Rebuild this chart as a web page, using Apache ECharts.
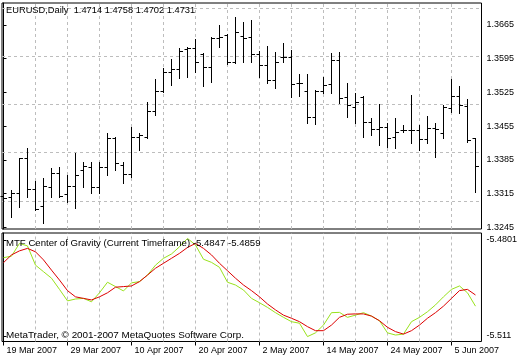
<!DOCTYPE html>
<html>
<head>
<meta charset="utf-8">
<style>
html,body{margin:0;padding:0;background:#fff;}
#c{width:520px;height:360px;}
</style>
<script src="https://cdn.jsdelivr.net/npm/echarts@6.0.0/dist/echarts.min.js"></script>
</head>
<body>
<div id="c"></div>
<script>
// ---- data (EURUSD daily, 19 Mar 2007 - 8 Jun 2007) ----
const openP = [1.3310,1.3308,1.3316,1.3389,1.3325,1.3289,1.3329,1.3358,1.3314,1.3331,
1.3364,1.3370,1.3329,1.3370,1.3430,1.3374,1.3356,1.3432,1.3432,1.3487,
1.3528,1.3567,1.3574,1.3615,1.3617,1.3605,1.3578,1.3638,1.3644,1.3588,
1.3642,1.3640,1.3605,1.3582,1.3551,1.3599,1.3599,1.3545,1.3528,1.3474,
1.3528,1.3543,1.3592,1.3516,1.3495,1.3516,1.3464,1.3449,1.3453,1.3432,
1.3447,1.3447,1.3447,1.3428,1.3451,1.3441,1.3493,1.3518,1.3497,1.3430];
const highP = [1.3327,1.3322,1.3389,1.3410,1.3341,1.3347,1.3368,1.3370,1.3354,1.3399,
1.3381,1.3381,1.3381,1.3441,1.3432,1.3381,1.3453,1.3441,1.3505,1.3553,
1.3576,1.3594,1.3617,1.3619,1.3636,1.3607,1.3640,1.3665,1.3646,1.3682,
1.3671,1.3675,1.3611,1.3621,1.3609,1.3628,1.3613,1.3563,1.3563,1.3530,
1.3557,1.3607,1.3609,1.3545,1.3524,1.3518,1.3472,1.3501,1.3462,1.3472,
1.3457,1.3520,1.3457,1.3476,1.3462,1.3499,1.3553,1.3538,1.3511,1.3430];
const lowP = [1.3279,1.3266,1.3287,1.3308,1.3281,1.3254,1.3308,1.3308,1.3298,1.3285,
1.3329,1.3316,1.3316,1.3354,1.3364,1.3337,1.3349,1.3406,1.3430,1.3478,
1.3526,1.3540,1.3555,1.3557,1.3567,1.3538,1.3547,1.3619,1.3584,1.3586,
1.3588,1.3588,1.3557,1.3545,1.3534,1.3588,1.3516,1.3518,1.3462,1.3460,
1.3524,1.3524,1.3503,1.3474,1.3462,1.3432,1.3437,1.3416,1.3412,1.3410,
1.3443,1.3420,1.3406,1.3420,1.3391,1.3430,1.3484,1.3482,1.3422,1.3318];
const closeP = [1.3306,1.3316,1.3389,1.3325,1.3283,1.3331,1.3358,1.3310,1.3331,1.3354,
1.3372,1.3329,1.3370,1.3430,1.3379,1.3356,1.3432,1.3437,1.3487,1.3528,
1.3567,1.3574,1.3611,1.3617,1.3588,1.3578,1.3638,1.3640,1.3588,1.3650,
1.3638,1.3605,1.3582,1.3551,1.3588,1.3599,1.3543,1.3545,1.3474,1.3528,
1.3540,1.3592,1.3513,1.3499,1.3505,1.3464,1.3449,1.3453,1.3430,1.3443,
1.3447,1.3447,1.3428,1.3451,1.3449,1.3495,1.3518,1.3499,1.3426,1.3372];
// Center of Gravity indicator (red) and signal (green)
const cogRed = [-5.4874,-5.4849,-5.4836,-5.4828,-5.4839,-5.4865,-5.4898,-5.4930,-5.4964,-5.4984,
-5.4989,-5.4994,-5.4984,-5.4971,-5.4953,-5.4951,-5.4949,-5.4935,-5.4914,-5.4892,
-5.4876,-5.4860,-5.4844,-5.4825,-5.4812,-5.4828,-5.4849,-5.4876,-5.4900,-5.4924,
-5.4946,-5.4964,-5.4984,-5.5007,-5.5026,-5.5043,-5.5053,-5.5064,-5.5080,-5.5093,
-5.5093,-5.5075,-5.5050,-5.5040,-5.5039,-5.5039,-5.5046,-5.5061,-5.5082,-5.5096,
-5.5104,-5.5093,-5.5075,-5.5053,-5.5035,-5.5014,-5.4989,-5.4964,-5.4960,-5.4978];
const cogGreen = [-5.4858,-5.4853,-5.4812,-5.4820,-5.4882,-5.4903,-5.4924,-5.4960,-5.4997,-5.4991,
-5.4989,-5.5000,-5.4971,-5.4937,-5.4951,-5.4965,-5.4939,-5.4935,-5.4914,-5.4882,
-5.4860,-5.4846,-5.4823,-5.4796,-5.4817,-5.4863,-5.4873,-5.4889,-5.4937,-5.4946,
-5.4962,-5.4989,-5.5003,-5.5018,-5.5035,-5.5050,-5.5064,-5.5069,-5.5112,-5.5100,
-5.5075,-5.5035,-5.5034,-5.5050,-5.5043,-5.5035,-5.5046,-5.5061,-5.5100,-5.5107,
-5.5104,-5.5064,-5.5050,-5.5032,-5.5010,-5.4984,-5.4960,-5.4949,-5.4971,-5.5014];
const priceTicks = [1.3245,1.3315,1.3385,1.3455,1.3525,1.3595,1.3665];
const cogTicks = [-5.511,-5.4801];
const cogTickText = ['-5.511','-5.4801'];
const dateLabelBars = [0,8,16,24,32,40,48,56];
const dateLabels = ['19 Mar 2007','29 Mar 2007','10 Apr 2007','20 Apr 2007','2 May 2007','14 May 2007','24 May 2007','5 Jun 2007'];
const gridBars = [4,8,12,16,20,24,28,32,36,40,44,48,52,56];
const titleMain = 'EURUSD,Daily  1.4714 1.4758 1.4702 1.4731';
const titleSub = 'MTF Center of Gravity (Current Timeframe) -5.4847 -5.4859';
const footer = 'MetaTrader, \u00a9 2001-2007 MetaQuotes Software Corp.';

// ---- chart ----
const FONT = 'Liberation Sans';
const ohlc = openP.map((o, i) => [i, o, highP[i], lowP[i], closeP[i]]);
const redData = cogRed.map((v, i) => [i, v]);
const greenData = cogGreen.map((v, i) => [i, v]);
const X_MIN = -0.1875, X_MAX = 59.75;
const gridLineStyle = {type: [3, 3], color: '#bdbdbd', width: 1};
const txt = size => ({fontSize: size, fontWeight: 'normal', color: '#000', fontFamily: FONT});

const chart = echarts.init(document.getElementById('c'), null, {renderer: 'canvas'});
chart.setOption({
  animation: false,
  backgroundColor: '#ffffff',
  textStyle: {fontFamily: FONT},
  title: [
    {text: titleMain, left: 6, top: 6, padding: 0, z: 20, textStyle: txt(9.3)},
    {text: titleSub, left: 6, top: 238, padding: 0, z: 20, textStyle: txt(9.6)},
    {text: footer, left: 6, top: 330, padding: 0, z: 20, textStyle: txt(9.9)}
  ],
  grid: [
    {left: 2, top: 3, width: 479.5, height: 226, show: true, borderColor: '#000', borderWidth: 1, backgroundColor: 'transparent'},
    {left: 2, top: 233, width: 479.5, height: 108.5, show: true, borderColor: '#000', borderWidth: 1, backgroundColor: 'transparent'}
  ],
  xAxis: [
    {type: 'value', gridIndex: 0, min: X_MIN, max: X_MAX, show: false, splitLine: {show: false}},
    {type: 'value', gridIndex: 1, min: X_MIN, max: X_MAX,
      axisLine: {show: false}, splitLine: {show: false},
      axisTick: {show: true, customValues: dateLabelBars, length: 4, lineStyle: {color: '#000'}},
      axisLabel: {customValues: dateLabelBars, formatter: v => dateLabels[dateLabelBars.indexOf(v)],
        align: 'left', padding: [0, 0, 0, 3], margin: 5, fontSize: 9, color: '#000', fontFamily: FONT}}
  ],
  yAxis: [
    {type: 'value', gridIndex: 0, position: 'right', min: 1.32415, max: 1.37107, scale: true,
      axisLine: {show: true, lineStyle: {color: '#000'}}, splitLine: {show: false},
      axisTick: {show: true, customValues: priceTicks, length: 3, lineStyle: {color: '#000'}},
      axisLabel: {customValues: priceTicks, formatter: v => v.toFixed(4), margin: 5, fontSize: 9, color: '#000', fontFamily: FONT}},
    {type: 'value', gridIndex: 1, position: 'right', min: -5.512783, max: -5.477846, scale: true,
      axisLine: {show: true, lineStyle: {color: '#000'}}, splitLine: {show: false},
      axisTick: {show: true, customValues: cogTicks, length: 3, lineStyle: {color: '#000'}},
      axisLabel: {customValues: cogTicks, formatter: v => cogTickText[cogTicks.indexOf(v)], margin: 5, fontSize: 9, color: '#000', fontFamily: FONT}}
  ],
  series: [
    {type: 'line', xAxisIndex: 0, yAxisIndex: 0, data: [], z: 1, silent: true,
      markLine: {silent: true, z: 1, symbol: ['none', 'none'], label: {show: false}, lineStyle: gridLineStyle, animation: false,
        data: gridBars.map(b => ({xAxis: b})).concat(priceTicks.map(p => ({yAxis: p})))}},
    {type: 'line', xAxisIndex: 1, yAxisIndex: 1, data: [], z: 1, silent: true,
      markLine: {silent: true, z: 1, symbol: ['none', 'none'], label: {show: false}, lineStyle: gridLineStyle, animation: false,
        data: gridBars.map(b => ({xAxis: b}))}},
    {type: 'custom', xAxisIndex: 0, yAxisIndex: 0, z: 10, data: ohlc,
      encode: {x: 0, y: [1, 2, 3, 4]},
      renderItem: function (params, api) {
        const i = api.value(0);
        const o = api.coord([i, api.value(1)]);
        const h = api.coord([i, api.value(2)]);
        const l = api.coord([i, api.value(3)]);
        const c = api.coord([i, api.value(4)]);
        const x = Math.floor(o[0]) + 0.5;
        const st = {stroke: '#000', lineWidth: 1};
        return {type: 'group', children: [
          {type: 'line', shape: {x1: x, y1: Math.round(h[1]), x2: x, y2: Math.round(l[1]) + 1}, style: st},
          {type: 'line', shape: {x1: x - 3, y1: Math.round(o[1]) + 0.5, x2: x, y2: Math.round(o[1]) + 0.5}, style: st},
          {type: 'line', shape: {x1: x, y1: Math.round(c[1]) + 0.5, x2: x + 3.5, y2: Math.round(c[1]) + 0.5}, style: st}
        ]};
      }},
    {type: 'line', xAxisIndex: 1, yAxisIndex: 1, z: 10, data: greenData, showSymbol: false, symbol: 'none',
      lineStyle: {color: '#99e21c', width: 1}},
    {type: 'line', xAxisIndex: 1, yAxisIndex: 1, z: 11, data: redData, showSymbol: false, symbol: 'none',
      lineStyle: {color: '#dd0000', width: 1}}
  ]
});
</script>
</body>
</html>
